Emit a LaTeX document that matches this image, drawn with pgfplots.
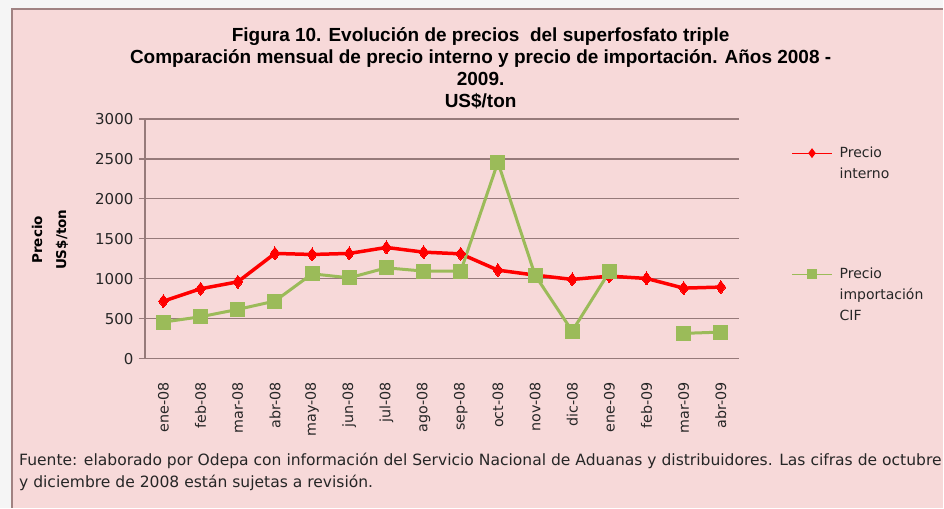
\documentclass[border=0pt]{standalone}
\usepackage{pgfplots}
\pgfplotsset{compat=1.18}
\usepackage{fontspec}
\setmainfont{Liberation Sans}
\newfontfamily\dejavu{DejaVu Sans}
\definecolor{bgpink}{RGB}{247,217,217}
\definecolor{gridc}{RGB}{150,122,122}
\definecolor{framec}{RGB}{160,130,130}
\definecolor{rojo}{RGB}{255,0,0}
\definecolor{verde}{RGB}{155,187,89}
\begin{document}
\begin{tikzpicture}[x=1pt,y=1pt]
\fill[white!96!black] (0,0) rectangle (944,508);
\fill[bgpink] (12,0) rectangle (944,499);
\draw[framec,line width=1.5pt] (12,0) -- (12,499) -- (944,499);
\node[anchor=north,align=center,font=\bfseries\fontsize{19}{22}\selectfont] at (481,484)
 {Figura 10. Evolución de precios\ \ del superfosfato triple\\
  Comparación mensual de precio interno y precio de importación. Años 2008 -\\
  2009.\\US\$/ton};
\node[rotate=90,align=center,font=\dejavu\bfseries\fontsize{13.5}{24}\selectfont] at (50,268)
 {Precio\\US\$/ton};
\node[anchor=base west,align=left,font=\dejavu\fontsize{15.55}{22}\selectfont,text=black!85,inner sep=0pt] at (19,20)
 {Fuente: elaborado por Odepa con información del Servicio Nacional de Aduanas y distribuidores. Las cifras de octubre\\
  y diciembre de 2008 están sujetas a revisión.};
\path (0,0) rectangle (944,508);
\begin{axis}[
  at={(145pt,149pt)}, anchor=south west,
  scale only axis, width=595pt, height=240pt,
  xmin=-0.5, xmax=15.5, ymin=0, ymax=3000,
  ytick={0,500,...,3000},
  xtick={0,...,15},
  xticklabels={ene-08,feb-08,mar-08,abr-08,may-08,jun-08,jul-08,ago-08,sep-08,oct-08,nov-08,dic-08,ene-09,feb-09,mar-09,abr-09},
  axis x line*=bottom, axis y line*=left,
  axis line style={gridc,line width=1.3pt,-},
  ymajorgrids, major grid style={gridc,line width=1.3pt},
  ytick style={gridc,line width=1.3pt}, major tick length=6pt, tick align=outside,
  xtick style={draw=none},
  yticklabel style={font=\dejavu\fontsize{15}{17}\selectfont,text=black!85,xshift=-2pt},
  xticklabel style={yshift=-14pt,rotate=90,anchor=east,font=\dejavu\fontsize{14.3}{16}\selectfont,text=black!85},
  scaled y ticks=false,
  /pgf/number format/assume math mode=true,
  /pgf/number format/1000 sep={},
  clip=false,
  unbounded coords=jump,
  legend style={draw=none,fill=none,at={(axis description cs:1.082,0.9)},anchor=north west,
    font=\dejavu\fontsize{14}{21}\selectfont,text=black!85,row sep=84pt,column sep=5pt,
    cells={anchor=west,align=left}},
  legend image code/.code={\draw[line width=1.3pt,mark repeat=2,mark phase=2,mark options={scale=0.6}] plot coordinates {(0pt,0pt) (20pt,0pt) (40pt,0pt)};},
]
\addplot[rojo,line width=3.5pt,mark=diamond*,mark size=6.5pt,mark options={line width=0pt},legend image post style={yshift=10.5pt}] coordinates {
(0,720) (1,875) (2,962) (3,1317) (4,1304) (5,1317) (6,1392) (7,1333) (8,1312) (9,1108) (10,1046) (11,992) (12,1033) (13,1004) (14,883) (15,896)};
\addlegendentry{Precio\\interno}
\addplot[verde,line width=3pt,mark=square*,mark size=7pt,mark options={line width=0pt},legend image post style={yshift=21pt}] coordinates {
(0,458) (1,525) (2,617) (3,721) (4,1062) (5,1012) (6,1137) (7,1096) (8,1096) (9,2458) (10,1046) (11,346) (12,1087) (13,nan) (14,317) (15,333)};
\addlegendentry{Precio\\importación\\CIF}
\end{axis}
\end{tikzpicture}
\end{document}
